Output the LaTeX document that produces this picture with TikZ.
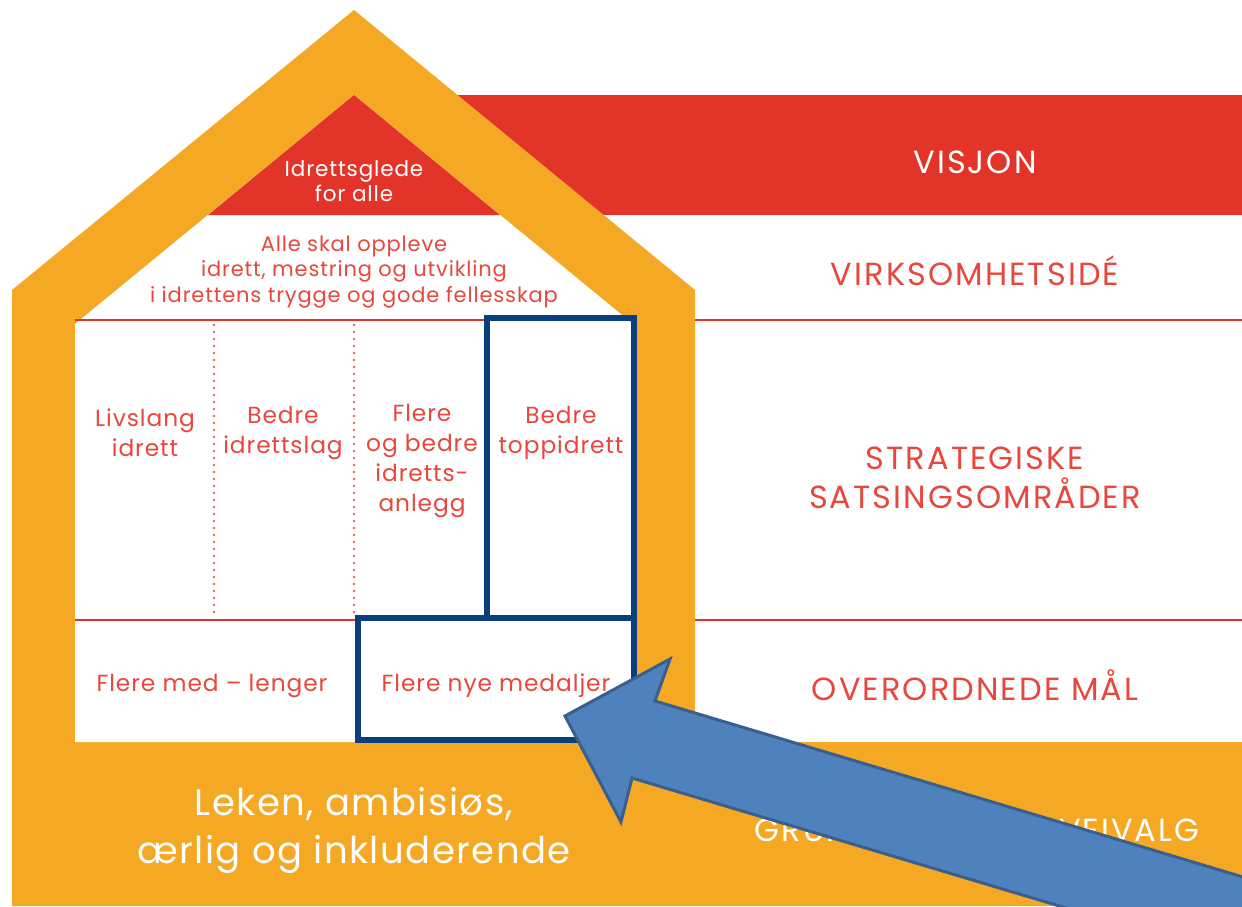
\documentclass[tikz,border=0pt]{standalone}
\usepackage{fontspec}
\setmainfont{Poppins}[LetterSpace=4]
\newfontfamily\capsfont{Poppins}[LetterSpace=6.5]
\definecolor{orng}{HTML}{F5A823}
\definecolor{redc}{HTML}{E3342A}
\definecolor{txtred}{HTML}{E8473D}
\definecolor{navy}{HTML}{0A3E7C}
\definecolor{arrfill}{HTML}{4F81BD}
\definecolor{arrdraw}{HTML}{3A5F8E}
\tikzset{
  lbl/.style={text=txtred, align=center, inner sep=0pt, font=\capsfont\fontsize{32}{39}\selectfont},
  wlbl/.style={text=white, align=center, inner sep=0pt, font=\capsfont\fontsize{32}{39}\selectfont},
  cell/.style={text=txtred, align=center, inner sep=0pt, font=\fontsize{23.3}{30}\selectfont},
  redline/.style={draw=redc, line width=2.2pt},
  dotline/.style={draw=redc, line width=2.2pt, dash pattern=on 0pt off 7pt, line cap=round},
  bluebox/.style={draw=navy, line width=5.5pt},
}
\begin{document}
\begin{tikzpicture}[x=1pt,y=-1pt]
\useasboundingbox (0,0) rectangle (1242,906);
\clip (0,0) rectangle (1242,906);
\fill[white] (0,0) rectangle (1242,906);
% red vision band
\fill[redc] (440,95) rectangle (1242,215);
% orange house
\fill[orng] (354,10) -- (695,290) -- (695,742) -- (1242,742) -- (1242,906) -- (12,906) -- (12,290) -- cycle;
% inner white
\fill[white] (354,95) -- (633,324) -- (633,742) -- (75,742) -- (75,324) -- cycle;
% inner red triangle
\fill[redc] (354,95) -- (500,215) -- (208,215) -- cycle;
% horizontal lines
\draw[redline] (75,320) -- (634,320);
\draw[redline] (695,320) -- (1242,320);
\draw[redline] (75,620) -- (634,620);
\draw[redline] (695,620) -- (1242,620);
% dotted separators
\draw[dotline] (214,325) -- (214,618);
\draw[dotline] (354,325) -- (354,618);
\draw[dotline] (487,325) -- (487,618);
% texts inside house
\node[text=white, align=center, inner sep=0pt, font=\fontsize{21.5}{25}\selectfont] (vis) at (354,181) {Idrettsglede\\for alle};
\node[text=txtred, align=center, inner sep=0pt, font=\fontsize{21}{25.5}\selectfont] (virk) at (354,272) {Alle skal oppleve\\idrett, mestring og utvikling\\i idrettens trygge og gode fellesskap};
\node[cell] (c1) at (145,433) {Livslang\\idrett};
\node[cell] (c2) at (283,433) {Bedre\\idrettslag};
\node[cell] (c3) at (422,461) {Flere\\og bedre\\idretts-\\anlegg};
\node[cell] (c4) at (561,433) {Bedre\\toppidrett};
\node[cell] (m1) at (212,686) {Flere med – lenger};
\node[cell] (m2) at (496,686) {Flere nye medaljer};
\node[text=white, align=center, inner sep=0pt, font=\fontsize{37}{48}\selectfont] (verd) at (354,830) {Leken, ambisiøs,\\ærlig og inkluderende};
% right labels
\node[wlbl] (r1) at (975,162) {VISJON};
\node[lbl] (r2) at (975,271) {VIRKSOMHETSIDÉ};
\node[lbl] (r3) at (975,478) {STRATEGISKE\\SATSINGSOMRÅDER};
\node[lbl] (r4) at (975,685) {OVERORDNEDE MÅL};
\node[wlbl] (r5) at (977,830) {GRUNNLEGGENDE VEIVALG};
% blue highlight boxes
\draw[bluebox] (487,318) rectangle (634,618);
\draw[bluebox] (358,618) rectangle (634,740);
% big arrow
\filldraw[fill=arrfill, draw=arrdraw, line width=3pt, line join=miter]
  (565,716) -- (670,659) -- (655,701) -- (1400,924) -- (1400,1008) -- (632,778) -- (621,822) -- cycle;
\end{tikzpicture}
\end{document}
